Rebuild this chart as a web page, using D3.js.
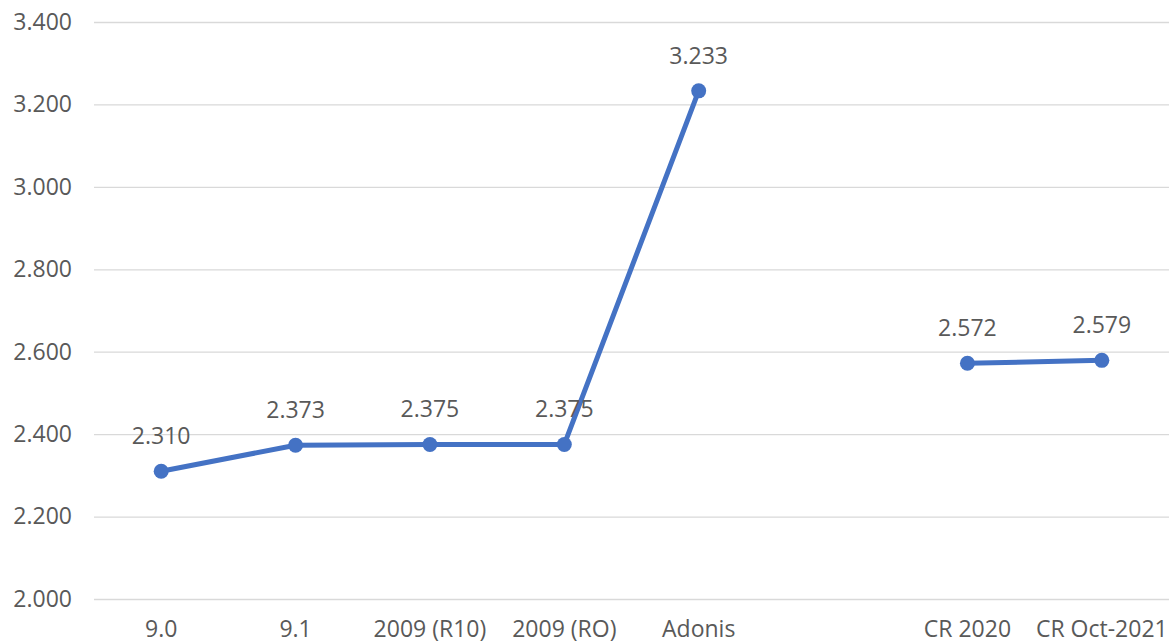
<!DOCTYPE html>
<html>
<head>
<meta charset="utf-8">
<script src="https://cdn.jsdelivr.net/npm/d3@7"></script>
<style>
  body { margin: 0; background: #fff; }
  text { font-family: "Open Sans", "Liberation Sans", sans-serif; fill: #595959; }
</style>
</head>
<body>
<svg width="1172" height="644"></svg>
<script>
const categories = ['9.0', '9.1', '2009 (R10)', '2009 (RO)', 'Adonis', '', 'CR 2020', 'CR Oct-2021'];
const values = [2.310, 2.373, 2.375, 2.375, 3.233, null, 2.572, 2.579];
const yTicks = [2.0, 2.2, 2.4, 2.6, 2.8, 3.0, 3.2, 3.4];

const svg = d3.select('svg');
const width = +svg.attr('width');
const height = +svg.attr('height');
const margin = { top: 22, bottom: 45, right: 3, left: 94 };
const innerWidth = width - margin.left - margin.right;
const innerHeight = height - margin.top - margin.bottom;
const fontSize = 23;

const data = categories.map((c, i) => ({ cat: 'c' + i, label: c, value: values[i] }));

const xScale = d3.scaleBand()
    .domain(data.map(d => d.cat))
    .range([0, innerWidth]);

const yScale = d3.scaleLinear()
    .domain([2.0, 3.4])
    .range([innerHeight, 0]);

const g = svg.append('g')
    .attr('transform', `translate(${margin.left}, ${margin.top})`);

const fmt = d3.format('.3f');

// gridlines + y labels
const yAxisG = g.append('g')
    .call(d3.axisLeft(yScale).tickValues(yTicks).tickSize(-innerWidth).tickPadding(22).tickFormat(fmt));
yAxisG.select('.domain').remove();
yAxisG.selectAll('.tick line').attr('stroke', '#d9d9d9').attr('stroke-width', 1.3);
yAxisG.selectAll('.tick text').attr('font-size', fontSize).style('fill', '#595959');

// x labels (empty slot keeps the gap in the line)
const xAxisG = g.append('g')
    .attr('transform', `translate(0, ${innerHeight})`)
    .call(d3.axisBottom(xScale).tickSize(0).tickPadding(22).tickFormat((c, i) => categories[i]));
xAxisG.select('.domain').remove();
xAxisG.selectAll('.tick text').attr('font-size', fontSize).style('fill', '#595959');

const cx = d => xScale(d.cat) + xScale.bandwidth() / 2;

const line = d3.line()
    .defined(d => d.value != null)
    .x(cx)
    .y(d => yScale(d.value));

g.append('path')
    .datum(data)
    .attr('fill', 'none')
    .attr('stroke', '#4472C4')
    .attr('stroke-width', 5)
    .attr('stroke-linejoin', 'round')
    .attr('d', line);

const pts = data.filter(d => d.value != null);

g.selectAll('circle')
    .data(pts)
    .enter()
    .append('circle')
    .attr('cx', cx)
    .attr('cy', d => yScale(d.value))
    .attr('r', 7.5)
    .attr('fill', '#4472C4');

g.selectAll('.val')
    .data(pts)
    .enter()
    .append('text')
    .attr('class', 'val')
    .attr('x', cx)
    .attr('y', d => yScale(d.value) - 27)
    .attr('text-anchor', 'middle')
    .attr('font-size', fontSize)
    .text(d => fmt(d.value));
</script>
</body>
</html>
